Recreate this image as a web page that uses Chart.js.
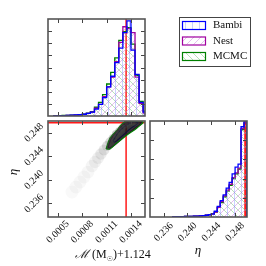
<!DOCTYPE html>
<html>
<head>
<meta charset="utf-8">
<script src="https://cdn.jsdelivr.net/npm/chart.js@4/dist/chart.umd.min.js"></script>
<style>
html, body { margin: 0; padding: 0; background: #fff; }
#wrap { position: relative; width: 266px; height: 266px; }
canvas { position: absolute; left: 0; top: 0; }
</style>
</head>
<body>
<div id="wrap">
<canvas id="c1" width="266" height="266"></canvas>
<canvas id="c2" width="266" height="266"></canvas>
<canvas id="c3" width="266" height="266"></canvas>
</div>
<script>
// chirp mass (offset by 1.124) histogram
const mcEdges = [0.00045, 0.0005, 0.00055, 0.0006, 0.00065, 0.0007, 0.00075, 0.0008, 0.00085, 0.0009,
  0.00095, 0.001, 0.00105, 0.0011, 0.00115, 0.0012, 0.00125, 0.0013, 0.00135, 0.0014, 0.00145, 0.0015, 0.00155, 0.0016];
const bambiMc = [0.002, 0.003, 0.004, 0.006, 0.008, 0.011, 0.013, 0.018, 0.028, 0.04, 0.07, 0.12, 0.19, 0.30, 0.41, 0.55, 0.70, 0.86, 0.98, 0.68, 0.43, 0.14, 0.04];
const nestMc = [0.002, 0.003, 0.004, 0.005, 0.007, 0.009, 0.012, 0.017, 0.027, 0.04, 0.08, 0.12, 0.20, 0.30, 0.40, 0.56, 0.76, 0.92, 0.90, 0.86, 0.40, 0.13, 0.03];
const mcmcMc = [0.003, 0.004, 0.005, 0.006, 0.008, 0.010, 0.014, 0.020, 0.030, 0.045, 0.09, 0.14, 0.22, 0.33, 0.45, 0.60, 0.78, 0.87, 0.91, 0.74, 0.42, 0.15, 0.05];

// eta histogram
const etaEdges = [0.2375, 0.238, 0.2385, 0.239, 0.2395, 0.24, 0.2405, 0.241, 0.2415, 0.242, 0.2425, 0.243, 0.2435,
  0.244, 0.2445, 0.245, 0.2455, 0.246, 0.2465, 0.247, 0.2475, 0.248, 0.2485, 0.249, 0.2495, 0.25];
const bambiEta = [0.002, 0.003, 0.003, 0.004, 0.005, 0.006, 0.007, 0.008, 0.010, 0.012, 0.015, 0.018, 0.024, 0.033, 0.06, 0.11, 0.17, 0.23, 0.30, 0.36, 0.45, 0.52, 0.55, 0.94, 1.0];
const nestEta = [0.002, 0.002, 0.003, 0.004, 0.005, 0.006, 0.007, 0.009, 0.010, 0.012, 0.014, 0.018, 0.022, 0.030, 0.05, 0.10, 0.16, 0.22, 0.28, 0.34, 0.41, 0.46, 0.51, 0.92, 0.98];
const mcmcEta = [0.002, 0.003, 0.003, 0.004, 0.005, 0.006, 0.007, 0.008, 0.010, 0.012, 0.015, 0.018, 0.022, 0.030, 0.05, 0.10, 0.15, 0.21, 0.27, 0.33, 0.40, 0.45, 0.50, 0.91, 0.98];

const mcRange = [0.000377, 0.001573];
const etaRange = [0.2337, 0.25];
const mcTicks = [0.0005, 0.0008, 0.0011, 0.0014];
const mcTickLabels = ['0.0005', '0.0008', '0.0011', '0.0014'];
const etaTicks = [0.236, 0.240, 0.244, 0.248];
const etaTickLabels = ['0.236', '0.240', '0.244', '0.248'];
const mcHistTicks = [0.125, 0.25, 0.375, 0.5, 0.625, 0.75, 0.875];
const etaHistTicks = [0.2, 0.4, 0.6, 0.8];
const trueMc = 0.00134;
const trueEta = 0.2497;

// 2d posterior: grey density ridge
const ridgeMc = [0.000673, 0.000722, 0.000772, 0.000821, 0.000870, 0.000920, 0.000957, 0.000994, 0.001030, 0.001067,
  0.001104, 0.001141, 0.001178, 0.001215, 0.001252, 0.001289, 0.001326, 0.001363, 0.001413, 0.001462];
const ridgeEta = [0.23794, 0.23879, 0.23964, 0.24049, 0.24134, 0.24236, 0.24304, 0.24372, 0.24440, 0.24508,
  0.24576, 0.24643, 0.24711, 0.24779, 0.24830, 0.24881, 0.24932, 0.24966, 0.24983, 0.24983];
const ridgeDensity = [0.01, 0.015, 0.02, 0.03, 0.05, 0.08, 0.12, 0.18, 0.26, 0.36, 0.48, 0.6, 0.72, 0.82, 0.9, 0.95, 1, 1, 0.95, 0.85];

// contours
const mcmcCMc = [0.001092, 0.001141, 0.001228, 0.001302, 0.001388, 0.001548, 0.001474, 0.001351, 0.001228, 0.001141, 0.001092];
const mcmcCEta = [0.24525, 0.24711, 0.24847, 0.24966, 0.25, 0.24983, 0.24881, 0.24762, 0.24626, 0.24525, 0.24525];
const nestCMc = [0.001117, 0.001166, 0.001240, 0.001314, 0.001400, 0.001524, 0.001450, 0.001326, 0.001215, 0.001141, 0.001117];
const nestCEta = [0.24559, 0.24728, 0.24847, 0.24949, 0.24992, 0.24975, 0.24881, 0.24745, 0.24609, 0.24542, 0.24559];
const bambiCMc = [0.001178, 0.001240, 0.001326, 0.001425, 0.001487, 0.001388, 0.001277, 0.001203, 0.001178];
const bambiCEta = [0.24660, 0.24796, 0.24915, 0.24983, 0.24966, 0.24864, 0.24728, 0.24643, 0.24660];

const labels = ['Bambi', 'Nest', 'MCMC'];
const lineColors = ['#0000ff', '#a000a0', '#008000'];
const hatchColors = ['rgba(110,130,255,0.45)', 'rgba(200,120,220,0.6)', 'rgba(110,190,110,0.6)'];
const hatchKinds = ['|', '/', '\\'];

const serif = '"Liberation Serif", "DejaVu Serif", serif';

function hatch(color, kind) {
  const s = 7;
  const c = document.createElement('canvas');
  c.width = s; c.height = s;
  const g = c.getContext('2d');
  g.strokeStyle = color;
  g.lineWidth = 0.8;
  g.beginPath();
  if (kind === '|') {
    g.moveTo(3.5, 0); g.lineTo(3.5, s);
  } else if (kind === '/') {
    g.moveTo(-1, s + 1); g.lineTo(s + 1, -1);
    g.moveTo(-1, 1); g.lineTo(1, -1);
    g.moveTo(s - 1, s + 1); g.lineTo(s + 1, s - 1);
  } else {
    g.moveTo(-1, -1); g.lineTo(s + 1, s + 1);
    g.moveTo(s - 1, -1); g.lineTo(s + 1, 1);
    g.moveTo(-1, s - 1); g.lineTo(1, s + 1);
  }
  g.stroke();
  return g.createPattern(c, 'repeat');
}

const patterns = hatchColors.map((c, i) => hatch(c, hatchKinds[i]));

function steps(edges, h) {
  const pts = [{x: edges[0], y: 0}];
  h.forEach((v, i) => pts.push({x: edges[i], y: v}));
  pts.push({x: edges[edges.length - 1], y: h[h.length - 1]});
  pts.push({x: edges[edges.length - 1], y: 0});
  return pts;
}

function histSet(i, edges, h) {
  return {
    label: labels[i],
    data: steps(edges, h),
    stepped: true,
    borderColor: lineColors[i],
    borderWidth: 1.3,
    backgroundColor: patterns[i],
    fill: 'origin',
    pointRadius: 0
  };
}

function redLine(pts, w) {
  return {data: pts, borderColor: 'rgba(255,0,0,0.9)', borderWidth: w || 1.3, pointRadius: 0, fill: false, showLine: true};
}

function contour(xs, ys, color, fillColor) {
  return {
    data: xs.map((v, i) => ({x: v, y: ys[i]})),
    showLine: true,
    borderColor: color,
    borderWidth: 1.1,
    backgroundColor: fillColor || 'transparent',
    fill: fillColor ? 'shape' : false,
    pointRadius: 0,
    tension: 0.3
  };
}

// frame, inward ticks and rotated tick labels
const frame = {
  id: 'frame',
  afterDatasetsDraw(chart, args, o) {
    const {ctx, chartArea: a, scales: {x, y}} = chart;
    ctx.save();
    ctx.strokeStyle = '#444';
    ctx.lineWidth = 1;
    ctx.beginPath();
    o.xt.forEach(v => {
      const p = Math.round(x.getPixelForValue(v)) + 0.5;
      ctx.moveTo(p, a.top); ctx.lineTo(p, a.top + 4);
      ctx.moveTo(p, a.bottom); ctx.lineTo(p, a.bottom - 4);
    });
    o.yt.forEach(v => {
      const p = Math.round(y.getPixelForValue(v)) + 0.5;
      ctx.moveTo(a.left, p); ctx.lineTo(a.left + 4, p);
      ctx.moveTo(a.right, p); ctx.lineTo(a.right - 4, p);
    });
    ctx.stroke();
    ctx.lineWidth = 1.6;
    ctx.strokeStyle = '#555';
    ctx.strokeRect(a.left, a.top, a.right - a.left, a.bottom - a.top);
    ctx.fillStyle = '#111';
    ctx.font = '10px ' + serif;
    ctx.textAlign = 'center';
    ctx.textBaseline = 'middle';
    if (o.xl) o.xt.forEach((v, i) => {
      ctx.save();
      ctx.translate(x.getPixelForValue(v), a.bottom + 15);
      ctx.rotate(-Math.PI / 4);
      ctx.fillText(o.xl[i], 0, 0);
      ctx.restore();
    });
    if (o.yl) o.yt.forEach((v, i) => {
      ctx.save();
      ctx.translate(a.left - 14, y.getPixelForValue(v));
      ctx.rotate(-Math.PI / 4);
      ctx.fillText(o.yl[i], 0, 0);
      ctx.restore();
    });
    if (o.title) o.title(ctx, a);
    ctx.restore();
  }
};

// hatched legend box
const hatchLegend = {
  id: 'hatchLegend',
  afterDraw(chart) {
    const ctx = chart.ctx;
    ctx.save();
    ctx.fillStyle = '#fff';
    ctx.fillRect(179, 17, 71, 49);
    ctx.strokeStyle = '#444';
    ctx.lineWidth = 1;
    ctx.strokeRect(179.5, 17.5, 71, 49);
    ctx.font = '11px ' + serif;
    ctx.textBaseline = 'middle';
    chart.data.datasets.slice(0, 3).forEach((d, i) => {
      const yy = 21 + i * 15.5;
      ctx.fillStyle = d.backgroundColor;
      ctx.fillRect(182, yy, 23, 8);
      ctx.strokeStyle = d.borderColor;
      ctx.lineWidth = 1.2;
      ctx.strokeRect(182.5, yy + 0.5, 23, 8);
      ctx.fillStyle = '#111';
      ctx.fillText(d.label, 213, yy + 4.5);
    });
    ctx.restore();
  }
};

Chart.defaults.animation = false;
Chart.defaults.responsive = false;

function hiddenAxes(xr, yr) {
  return {
    x: {type: 'linear', display: false, min: xr[0], max: xr[1]},
    y: {type: 'linear', display: false, min: yr[0], max: yr[1]}
  };
}

// top-left: chirp mass marginal
new Chart('c1', {
  type: 'line',
  data: {
    datasets: [
      histSet(0, mcEdges, bambiMc),
      histSet(1, mcEdges, nestMc),
      histSet(2, mcEdges, mcmcMc),
      redLine([{x: trueMc, y: 0}, {x: trueMc, y: 1}], 1.5)
    ]
  },
  options: {
    layout: {padding: {left: 48, top: 19, right: 121, bottom: 150}},
    scales: hiddenAxes(mcRange, [0, 1]),
    plugins: {legend: {display: false}, tooltip: {enabled: false},
      frame: {xt: mcTicks, yt: mcHistTicks}}
  },
  plugins: [frame, hatchLegend]
});

// bottom-left: joint posterior
new Chart('c2', {
  type: 'scatter',
  data: {
    datasets: [
      {
        data: ridgeMc.map((v, i) => ({x: v, y: ridgeEta[i]})),
        pointStyle: 'circle',
        pointRadius: c => 3.5 + 3 * (1 - ridgeDensity[c.dataIndex]),
        borderWidth: 0,
        backgroundColor: c => 'rgba(70,70,70,' + (0.03 + 0.3 * ridgeDensity[c.dataIndex]) + ')'
      },
      contour(mcmcCMc, mcmcCEta, '#008000', 'rgba(20,20,20,0.85)'),
      contour(nestCMc, nestCEta, '#a000a0'),
      contour(bambiCMc, bambiCEta, '#0000ff'),
      redLine([{x: trueMc, y: etaRange[0]}, {x: trueMc, y: etaRange[1]}], 1.5),
      redLine([{x: mcRange[0], y: trueEta}, {x: mcRange[1], y: trueEta}], 1.5),
      {data: [{x: trueMc, y: trueEta}], pointStyle: 'rect', pointRadius: 3, backgroundColor: '#ff0000', borderWidth: 0}
    ]
  },
  options: {
    layout: {padding: {left: 48, top: 121, right: 121, bottom: 49}},
    scales: hiddenAxes(mcRange, etaRange),
    plugins: {legend: {display: false}, tooltip: {enabled: false},
      frame: {
        xt: mcTicks, yt: etaTicks, xl: mcTickLabels, yl: etaTickLabels,
        title(ctx) {
          ctx.textAlign = 'left';
          ctx.textBaseline = 'alphabetic';
          ctx.fillStyle = '#111';
          let px = 75;
          ctx.font = 'italic 12px ' + serif;
          ctx.fillText('ℳ', px, 258);
          px += ctx.measureText('ℳ').width + 3;
          ctx.font = '12px ' + serif;
          ctx.fillText('(M', px, 258);
          px += ctx.measureText('(M').width;
          ctx.font = '7px "DejaVu Sans", sans-serif';
          ctx.fillText('☉', px, 261);
          px += ctx.measureText('☉').width;
          ctx.font = '12px ' + serif;
          ctx.fillText(')+1.124', px, 258);
          ctx.save();
          ctx.translate(14, 172);
          ctx.rotate(-Math.PI / 2);
          ctx.textAlign = 'center';
          ctx.textBaseline = 'middle';
          ctx.font = 'italic 13px ' + serif;
          ctx.fillText('η', 0, 0);
          ctx.restore();
        }
      }}
  },
  plugins: [frame]
});

// bottom-right: eta marginal
new Chart('c3', {
  type: 'line',
  data: {
    datasets: [
      histSet(0, etaEdges, bambiEta),
      histSet(1, etaEdges, nestEta),
      histSet(2, etaEdges, mcmcEta),
      redLine([{x: trueEta, y: 0}, {x: trueEta, y: 1}], 2)
    ]
  },
  options: {
    layout: {padding: {left: 150, top: 121, right: 19, bottom: 49}},
    scales: hiddenAxes(etaRange, [0, 1]),
    plugins: {legend: {display: false}, tooltip: {enabled: false},
      frame: {
        xt: etaTicks, yt: etaHistTicks, xl: etaTickLabels,
        title(ctx) {
          ctx.textAlign = 'center';
          ctx.textBaseline = 'middle';
          ctx.fillStyle = '#111';
          ctx.font = 'italic 13px ' + serif;
          ctx.fillText('η', 198, 251);
        }
      }}
  },
  plugins: [frame]
});
</script>
</body>
</html>
